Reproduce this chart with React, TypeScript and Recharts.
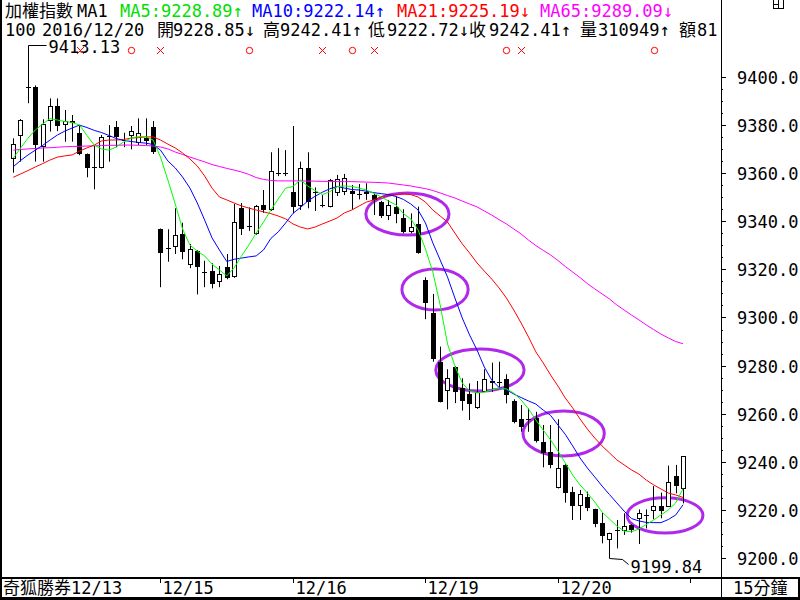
import React from 'react';
import { ComposedChart, Bar, Line, XAxis, YAxis, Scatter, ReferenceArea } from 'recharts';

// ---------- data (15-minute bars, 加權指數) ----------
const OPEN = [
  9365.8, 9375.5, 9395.8, 9396.0, 9370.8, 9381.7, 9387.9, 9380.0, 9381.0, 9376.8,
  9368.0, 9362.5, 9362.0, 9375.2, 9379.1, 9373.9, 9375.5, 9372.7, 9374.5, 9379.1,
  9336.7, 9328.9, 9329.2, 9334.7, 9321.7, 9327.6, 9318.8, 9319.3, 9314.6, 9320.9,
  9317.0, 9345.7, 9338.2, 9334.6, 9346.8, 9344.7, 9360.0, 9360.0, 9352.1, 9346.5,
  9362.0, 9352.1, 9346.8, 9346.1, 9351.6, 9352.3, 9352.7, 9351.2, 9352.3, 9350.9,
  9348.1, 9342.2, 9346.1, 9341.2, 9335.7, 9338.9, 9315.6, 9302.0, 9281.6, 9269.6,
  9279.5, 9270.6, 9268.2, 9262.2, 9269.1, 9273.7, 9273.0, 9274.3, 9265.3, 9257.7,
  9257.7, 9258.1, 9248.4, 9244.2, 9228.9, 9238.7, 9227.3, 9221.7, 9225.5, 9220.2,
  9214.4, 9207.5, 9211.4, 9211.4, 9213.7, 9216.2, 9217.9, 9219.5, 9221.6, 9221.3,
  9234.1, 9228.85,
];
const HIGH = [
  9374.5, 9382.5, 9413.13, 9396.5, 9382.4, 9391.1, 9391.1, 9386.3, 9384.2, 9380.0,
  9368.2, 9371.3, 9375.9, 9380.0, 9381.7, 9376.8, 9379.6, 9382.8, 9382.8, 9381.7,
  9337.0, 9336.7, 9345.4, 9339.4, 9330.6, 9328.0, 9323.6, 9322.5, 9321.4, 9326.4,
  9347.2, 9347.6, 9345.8, 9346.8, 9353.0, 9368.7, 9370.4, 9369.6, 9379.6, 9364.8,
  9368.7, 9354.1, 9350.9, 9357.6, 9359.3, 9359.7, 9355.1, 9355.5, 9355.8, 9351.5,
  9348.5, 9348.9, 9350.2, 9345.0, 9343.3, 9346.1, 9316.7, 9309.8, 9287.9, 9278.5,
  9279.8, 9274.7, 9272.6, 9273.6, 9278.5, 9281.2, 9281.6, 9276.4, 9266.0, 9263.6,
  9262.2, 9260.8, 9255.3, 9255.3, 9257.7, 9239.0, 9229.6, 9228.3, 9227.6, 9220.5,
  9218.8, 9210.5, 9215.8, 9218.6, 9214.0, 9220.2, 9220.2, 9229.9, 9227.2, 9238.4,
  9238.7, 9242.41,
];
const LOW = [
  9360.2, 9364.8, 9389.1, 9364.8, 9364.8, 9377.3, 9377.5, 9373.1, 9373.1, 9367.5,
  9358.3, 9353.3, 9362.0, 9364.8, 9370.8, 9370.8, 9369.9, 9371.7, 9371.7, 9368.0,
  9312.6, 9323.2, 9326.4, 9324.2, 9320.5, 9309.6, 9312.6, 9312.1, 9312.6, 9315.9,
  9316.5, 9334.3, 9336.0, 9334.4, 9343.5, 9344.3, 9358.8, 9358.8, 9343.3, 9344.7,
  9345.4, 9344.3, 9345.8, 9345.8, 9350.5, 9350.9, 9344.7, 9349.1, 9348.9, 9342.6,
  9341.4, 9340.5, 9339.2, 9335.0, 9335.0, 9326.5, 9299.3, 9281.6, 9264.7, 9261.8,
  9264.4, 9261.3, 9257.4, 9262.0, 9269.0, 9269.1, 9270.6, 9264.3, 9256.0, 9252.5,
  9252.5, 9248.0, 9237.7, 9237.3, 9228.9, 9223.0, 9215.8, 9215.8, 9219.5, 9212.8,
  9206.1, 9199.84, 9204.0, 9209.6, 9210.5, 9205.8, 9212.3, 9216.1, 9216.5, 9221.2,
  9226.9, 9222.72,
];
const CLOSE = [
  9372.0, 9382.0, 9395.6, 9371.7, 9380.3, 9387.9, 9379.8, 9381.7, 9381.5, 9368.0,
  9362.3, 9362.3, 9375.2, 9375.5, 9374.9, 9373.8, 9377.5, 9376.6, 9373.5, 9368.7,
  9326.7, 9328.8, 9334.3, 9327.4, 9328.4, 9320.9, 9318.7, 9313.8, 9318.0, 9316.3,
  9339.6, 9336.7, 9338.0, 9346.5, 9344.7, 9360.9, 9360.1, 9359.9, 9346.1, 9362.3,
  9348.1, 9352.0, 9346.9, 9357.2, 9357.5, 9357.9, 9351.2, 9351.3, 9351.4, 9348.9,
  9342.2, 9346.8, 9343.0, 9335.7, 9337.5, 9326.7, 9306.2, 9282.6, 9265.0, 9274.7,
  9269.1, 9265.4, 9263.9, 9269.1, 9274.4, 9272.9, 9273.1, 9267.8, 9256.7, 9254.6,
  9257.8, 9248.8, 9243.8, 9238.7, 9237.3, 9226.9, 9221.7, 9226.5, 9220.7, 9214.1,
  9209.1, 9210.3, 9211.5, 9213.3, 9211.6, 9218.6, 9218.0, 9221.6, 9219.5, 9231.5,
  9229.9, 9242.41,
];
const MA5 = [
  9366.3, 9370.5, 9374.6, 9378.0, 9380.5, 9382.7, 9382.1, 9381.5, 9381.1, 9380.0,
  9375.7, 9371.7, 9370.1, 9369.6, 9370.9, 9373.0, 9374.6, 9375.2, 9375.2, 9373.8,
  9366.7, 9357.2, 9347.2, 9336.8, 9330.1, 9327.6, 9325.6, 9322.2, 9319.8, 9317.3,
  9320.6, 9325.6, 9330.1, 9335.1, 9339.7, 9344.7, 9349.3, 9353.8, 9354.5, 9357.2,
  9354.7, 9352.8, 9351.1, 9352.3, 9354.4, 9354.7, 9354.5, 9353.8, 9353.0, 9351.6,
  9350.1, 9348.4, 9346.8, 9343.2, 9341.0, 9336.4, 9328.5, 9318.9, 9305.2, 9289.0,
  9279.8, 9272.8, 9269.4, 9268.7, 9269.0, 9269.9, 9270.7, 9270.3, 9268.6, 9265.7,
  9262.0, 9257.4, 9253.2, 9249.1, 9244.5, 9239.5, 9234.5, 9230.4, 9227.0, 9223.3,
  9219.1, 9216.2, 9213.3, 9211.2, 9210.9, 9212.1, 9213.9, 9215.8, 9217.9, 9220.0,
  9222.9, 9228.89,
];
const MA10 = [
  9362.7, 9365.3, 9367.6, 9369.6, 9371.6, 9373.8, 9375.9, 9377.5, 9378.8, 9380.0,
  9379.0, 9377.8, 9376.9, 9375.7, 9374.4, 9373.6, 9373.2, 9372.8, 9372.5, 9371.9,
  9369.6, 9365.1, 9362.2, 9358.4, 9353.8, 9347.6, 9340.5, 9333.1, 9328.1, 9323.3,
  9324.2, 9324.7, 9325.2, 9325.6, 9328.1, 9332.9, 9335.6, 9339.3, 9343.3, 9345.7,
  9348.4, 9350.4, 9352.1, 9353.5, 9354.5, 9353.8, 9353.2, 9353.0, 9352.5, 9351.9,
  9351.5, 9351.1, 9350.3, 9349.1, 9347.2, 9344.7, 9339.3, 9331.0, 9323.9, 9316.8,
  9308.1, 9299.8, 9292.7, 9286.5, 9279.4, 9274.0, 9270.9, 9269.9, 9268.2, 9266.7,
  9265.3, 9264.0, 9261.5, 9259.3, 9255.3, 9251.4, 9246.6, 9241.6, 9237.4, 9233.7,
  9229.9, 9226.4, 9222.9, 9219.5, 9216.4, 9215.4, 9214.8, 9214.7, 9214.7, 9216.0,
  9217.9, 9222.14,
];
const MA21 = [
  9358.3, 9359.7, 9361.1, 9362.6, 9364.0, 9365.5, 9366.7, 9367.2, 9367.6, 9369.2,
  9370.5, 9371.7, 9373.4, 9373.8, 9373.8, 9374.0, 9374.6, 9374.8, 9375.1, 9375.1,
  9373.8, 9372.1, 9370.5, 9368.4, 9365.9, 9363.0, 9358.8, 9353.8, 9350.1, 9348.9,
  9347.6, 9346.4, 9345.5, 9344.7, 9343.9, 9343.2, 9342.2, 9341.0, 9338.9, 9337.6,
  9336.8, 9337.6, 9338.9, 9340.1, 9341.4, 9343.5, 9344.7, 9346.4, 9348.0, 9348.9,
  9350.1, 9350.7, 9351.1, 9351.4, 9351.1, 9350.1, 9348.0, 9344.7, 9342.2, 9339.7,
  9335.1, 9330.6, 9326.8, 9322.7, 9319.3, 9316.0, 9312.3, 9308.1, 9303.1, 9297.7,
  9291.9, 9285.7, 9281.1, 9276.1, 9271.5, 9266.5, 9262.4, 9257.8, 9253.6, 9249.9,
  9246.6, 9243.7, 9240.8, 9238.7, 9236.6, 9234.9, 9232.4, 9230.4, 9228.7, 9227.0,
  9226.2, 9225.19,
];
const MA65 = [
  9369.6, 9369.9, 9370.1, 9370.3, 9370.5, 9370.6, 9370.8, 9371.0, 9371.1, 9371.2,
  9371.3, 9371.4, 9371.5, 9371.6, 9371.6, 9371.7, 9371.7, 9371.6, 9371.5, 9371.3,
  9370.9, 9370.1, 9368.8, 9367.8, 9366.7, 9365.7, 9364.7, 9363.6, 9362.8, 9362.0,
  9361.3, 9360.5, 9359.5, 9358.2, 9357.4, 9357.0, 9356.8, 9356.8, 9356.8, 9356.8,
  9356.7, 9356.7, 9356.6, 9356.6, 9356.5, 9356.5, 9356.5, 9356.4, 9356.3, 9356.2,
  9356.1, 9355.9, 9355.5, 9355.1, 9354.7, 9354.1, 9353.6, 9352.8, 9351.8, 9350.7,
  9349.7, 9348.4, 9347.2, 9346.0, 9344.3, 9342.6, 9340.7, 9338.9, 9336.8, 9334.7,
  9332.2, 9329.9, 9327.9, 9326.0, 9323.7, 9321.2, 9318.9, 9316.6, 9314.1, 9311.9,
  9309.8, 9307.7, 9305.2, 9303.1, 9301.0, 9299.0, 9296.9, 9295.0, 9293.1, 9291.5,
  9290.0, 9289.09,
];

// day boundaries (bar index of first bar of the day) and labels
const DAY_TICKS = [20, 38, 56, 74, 92];
const DAY_LABELS = ['12/15', '12/16', '12/19', '12/20', ''];
const FIRST_LABEL = '奇狐勝券12/13';

// y axis ticks
const Y_MAJOR = [9200, 9220, 9240, 9260, 9280, 9300, 9320, 9340, 9360, 9380, 9400];
const Y_MINOR_STEPS = [5, 10, 15];

// buy (o) / sell (x) signals
const SIGNAL_IDX = [9, 16, 20, 32, 42, 46, 49, 67, 69, 87];
const SIGNAL_KIND = ['x', 'o', 'x', 'o', 'x', 'o', 'x', 'o', 'x', 'o'];
const SIGNAL_LEVEL = 9411.4;

// highlighted zones (bar index range, price range)
const ZONE_I1 = [47.9, 52.8, 57.4, 69.25, 83.4];
const ZONE_I2 = [59.2, 61.8, 69.4, 80.3, 93.7];
const ZONE_HI = [9351.8, 9320.2, 9286.9, 9261.1, 9225.0];
const ZONE_LO = [9334.3, 9303.1, 9269.4, 9242.4, 9210.4];

const HIGH_NOTE_IDX = 2;
const LOW_NOTE_IDX = 81;

const HEADER_DATE = '2016/12/20';
const HEADER_NO = '100';
const VOLUME = '310949';
const AMOUNT = '81';
const PERIOD = '15分鐘';

// ---------- layout constants ----------
const W = 800;
const H = 600;
const PLOT_RIGHT = 721;
const PLOT_BOTTOM = 578;
const X_MIN = -1.807;
const X_MAX = 96.155;
const Y_MIN = 9191.68;
const Y_MAX = 9432.02;
const FONT = "'DejaVu Sans Mono', 'Noto Sans CJK TC', monospace";
const FS = 17;

const GREEN = '#00FF00';
const GREEN_TXT = '#00E000';
const BLUE = '#0000FF';
const RED = '#FF0000';
const MAGENTA = '#FF00FF';
const PURPLE = '#B028EC';

const data = OPEN.map((o, i) => ({
  i,
  open: o,
  high: HIGH[i],
  low: LOW[i],
  close: CLOSE[i],
  ma5: MA5[i],
  ma10: MA10[i],
  ma21: MA21[i],
  ma65: MA65[i],
}));

const signalData = SIGNAL_IDX.map((i, k) => ({ i, level: SIGNAL_LEVEL, kind: SIGNAL_KIND[k] }));

const Candle = (props: any) => {
  const { x, y, width, height, payload } = props;
  if (x == null || y == null || !payload) return null;
  const { open, high, low, close, i } = payload;
  const h = Math.abs(height);
  const top = height >= 0 ? y : y + height;
  const k = high > low ? h / (high - low) : 0;
  const py = (v: number) => top + (high - v) * k;
  const cx = Math.round(x + width / 2) + 0.5;
  const yH = py(high);
  const yL = py(low);
  const yO = py(open);
  const yC = py(close);
  const bodyTop = Math.min(yO, yC);
  const bodyBot = Math.max(yO, yC);
  const up = close >= open;
  const parts: any[] = [];
  parts.push(<line key="w" x1={cx} x2={cx} y1={yH} y2={yL} stroke="#000" strokeWidth={1} />);
  if (bodyBot - bodyTop < 1.2) {
    const yy = Math.round((bodyTop + bodyBot) / 2) + 0.5;
    parts.push(<line key="d" x1={cx - 2.5} x2={cx + 2.5} y1={yy} y2={yy} stroke="#000" strokeWidth={1} />);
  } else if (up) {
    const t = Math.round(bodyTop) + 0.5;
    const b = Math.round(bodyBot) - 0.5;
    parts.push(<rect key="b" x={cx - 2} y={t} width={4} height={Math.max(1, b - t)} fill="#fff" stroke="#000" strokeWidth={1} />);
  } else {
    const t = Math.round(bodyTop);
    const b = Math.round(bodyBot);
    parts.push(<rect key="b" x={cx - 2.5} y={t} width={5} height={Math.max(1, b - t)} fill="#000" />);
  }
  if (i === HIGH_NOTE_IDX) {
    const yy = Math.round(yH) + 0.5;
    parts.push(<line key="hn" x1={cx} x2={cx + 18} y1={yy} y2={yy} stroke="#000" strokeWidth={1} />);
    parts.push(
      <text key="ht" x={cx + 20} y={yy + 7.5} fontFamily={FONT} fontSize={FS} fill="#000">
        {high.toFixed(2)}
      </text>
    );
  }
  if (i === LOW_NOTE_IDX) {
    const yy = Math.round(yL) + 0.5;
    parts.push(
      <polyline key="ln" points={`${cx},${yy} ${cx + 13},${yy + 1} ${cx + 19},${yy + 6}`} fill="none" stroke="#000" strokeWidth={1} />
    );
    parts.push(
      <text key="lt" x={cx + 21} y={yy + 14} fontFamily={FONT} fontSize={FS} fill="#000">
        {low.toFixed(2)}
      </text>
    );
  }
  return <g>{parts}</g>;
};

const SignalShape = (props: any) => {
  const { cx, cy, payload } = props;
  if (cx == null || cy == null) return null;
  const x = Math.round(cx) + 0.5;
  const y = Math.round(cy) + 0.5;
  if (payload.kind === 'o') {
    return <circle cx={x} cy={y} r={3.2} fill="none" stroke={RED} strokeWidth={1} />;
  }
  return (
    <g>
      <line x1={x - 3.5} y1={y - 3.5} x2={x + 3.5} y2={y + 3.5} stroke={RED} strokeWidth={1} />
      <line x1={x - 3.5} y1={y + 3.5} x2={x + 3.5} y2={y - 3.5} stroke={RED} strokeWidth={1} />
    </g>
  );
};

const YTick = (props: any) => {
  const { y, payload } = props;
  const v = payload.value;
  const yy = Math.round(y) + 0.5;
  if (v % 20 === 0) {
    return (
      <g>
        <line x1={PLOT_RIGHT} x2={PLOT_RIGHT + 5} y1={yy} y2={yy} stroke="#000" strokeWidth={1} />
        <text x={PLOT_RIGHT + 16} y={yy + 6} fontFamily={FONT} fontSize={FS} fill="#000">
          {v.toFixed(1)}
        </text>
      </g>
    );
  }
  return <rect x={PLOT_RIGHT + 1} y={Math.round(y)} width={1} height={1} fill="#000" />;
};

const XTick = (props: any) => {
  const { x, payload } = props;
  const idx = DAY_TICKS.indexOf(payload.value);
  const label = idx >= 0 ? DAY_LABELS[idx] : '';
  const xx = Math.round(x) + 0.5;
  return (
    <g>
      <line x1={xx} x2={xx} y1={PLOT_BOTTOM + 1} y2={PLOT_BOTTOM + 5} stroke="#000" strokeWidth={1} />
      <text x={xx + 2} y={PLOT_BOTTOM + 16} fontFamily={FONT} fontSize={FS} fill="#000">
        {label}
      </text>
    </g>
  );
};

const zoneShape = (p: any) => {
  const { x, y, width, height } = p;
  if (x == null) return null;
  return (
    <ellipse
      cx={x + width / 2}
      cy={y + height / 2}
      rx={Math.abs(width) / 2}
      ry={Math.abs(height) / 2}
      fill="none"
      stroke={PURPLE}
      strokeWidth={3}
    />
  );
};

const last = OPEN.length - 1;
const header1 = [
  { t: '加權指數', x: 5, c: '#000' },
  { t: 'MA1', x: 77, c: '#000' },
  { t: `MA5:${MA5[last].toFixed(2)}↑`, x: 120, c: GREEN_TXT },
  { t: `MA10:${MA10[last].toFixed(2)}↑`, x: 252, c: BLUE },
  { t: `MA21:${MA21[last].toFixed(2)}↓`, x: 397, c: RED },
  { t: `MA65:${MA65[last].toFixed(2)}↓`, x: 540, c: MAGENTA },
];
const header2 = [
  { t: HEADER_NO, x: 5 },
  { t: HEADER_DATE, x: 42 },
  { t: '開', x: 157 },
  { t: `${OPEN[last].toFixed(2)}↓`, x: 173 },
  { t: '高', x: 263 },
  { t: `${HIGH[last].toFixed(2)}↑`, x: 280 },
  { t: '低', x: 368 },
  { t: `${LOW[last].toFixed(2)}↓`, x: 387 },
  { t: '收', x: 469 },
  { t: `${CLOSE[last].toFixed(2)}↑`, x: 489 },
  { t: '量', x: 580 },
  { t: `${VOLUME}↑`, x: 598 },
  { t: '額', x: 679 },
  { t: AMOUNT, x: 697 },
];

export default function App() {
  return (
    <div style={{ position: 'absolute', left: 0, top: 0, width: W, height: H, background: '#fff', overflow: 'hidden' }}>
      <ComposedChart width={W} height={H} data={data} margin={{ top: 0, right: 0, bottom: 0, left: 0 }}>
        <XAxis
          type="number"
          dataKey="i"
          domain={[X_MIN, X_MAX]}
          allowDataOverflow
          ticks={DAY_TICKS}
          interval={0}
          height={H - PLOT_BOTTOM}
          axisLine={false}
          tickLine={false}
          tick={<XTick />}
        />
        <YAxis
          orientation="right"
          type="number"
          width={W - PLOT_RIGHT}
          domain={[Y_MIN, Y_MAX]}
          allowDataOverflow
          ticks={[...Y_MAJOR, ...Y_MAJOR.slice(0, -1).flatMap((m) => Y_MINOR_STEPS.map((s) => m + s))]}
          interval={0}
          axisLine={false}
          tickLine={false}
          tick={<YTick />}
        />
        <Bar
          dataKey={(d: any) => [d.low, d.high]}
          barSize={5}
          shape={(p: any) => <Candle {...p} />}
          activeBar={false}
          isAnimationActive={false}
        />
        <Line type="linear" dataKey="ma65" stroke={MAGENTA} strokeWidth={1} dot={false} activeDot={false} isAnimationActive={false} />
        <Line type="linear" dataKey="ma21" stroke={RED} strokeWidth={1} dot={false} activeDot={false} isAnimationActive={false} />
        <Line type="linear" dataKey="ma10" stroke={BLUE} strokeWidth={1} dot={false} activeDot={false} isAnimationActive={false} />
        <Line type="linear" dataKey="ma5" stroke={GREEN} strokeWidth={1} dot={false} activeDot={false} isAnimationActive={false} />
        <Scatter data={signalData} dataKey="level" shape={(p: any) => <SignalShape {...p} />} isAnimationActive={false} />
        {ZONE_I1.map((x1, k) => (
          <ReferenceArea
            key={k}
            x1={x1}
            x2={ZONE_I2[k]}
            y1={ZONE_LO[k]}
            y2={ZONE_HI[k]}
            ifOverflow="visible"
            shape={zoneShape}
          />
        ))}
      </ComposedChart>
      <svg width={W} height={H} style={{ position: 'absolute', left: 0, top: 0, pointerEvents: 'none' }}>
        {/* frame */}
        <rect x={0} y={0} width={2} height={H} fill="#000" />
        <rect x={PLOT_RIGHT} y={0} width={1} height={H} fill="#000" />
        <rect x={0} y={PLOT_BOTTOM - 1} width={W} height={2} fill="#000" />
        <rect x={0} y={H - 3} width={W} height={3} fill="#000" />
        <rect x={W - 2} y={PLOT_BOTTOM} width={2} height={H - PLOT_BOTTOM} fill="#000" />
        {/* window icon */}
        <rect x={773.5} y={-0.5} width={10} height={9} fill="#fff" stroke="#000" strokeWidth={1} />
        <line x1={778.5} x2={778.5} y1={0} y2={8.5} stroke="#000" strokeWidth={1} />
        <line x1={773.5} x2={778.5} y1={4.5} y2={4.5} stroke="#000" strokeWidth={1} />
        {/* header */}
        {header1.map((s, k) => (
          <text key={k} x={s.x} y={17} fontFamily={FONT} fontSize={FS} fill={s.c}>
            {s.t}
          </text>
        ))}
        {header2.map((s, k) => (
          <text key={k} x={s.x} y={35.5} fontFamily={FONT} fontSize={FS} fill="#000">
            {s.t}
          </text>
        ))}
        {/* bottom labels */}
        <text x={3} y={PLOT_BOTTOM + 16} fontFamily={FONT} fontSize={FS} fill="#000">
          {FIRST_LABEL}
        </text>
        <text x={733} y={PLOT_BOTTOM + 16} fontFamily={FONT} fontSize={FS} fill="#000">
          {PERIOD}
        </text>
      </svg>
    </div>
  );
}
